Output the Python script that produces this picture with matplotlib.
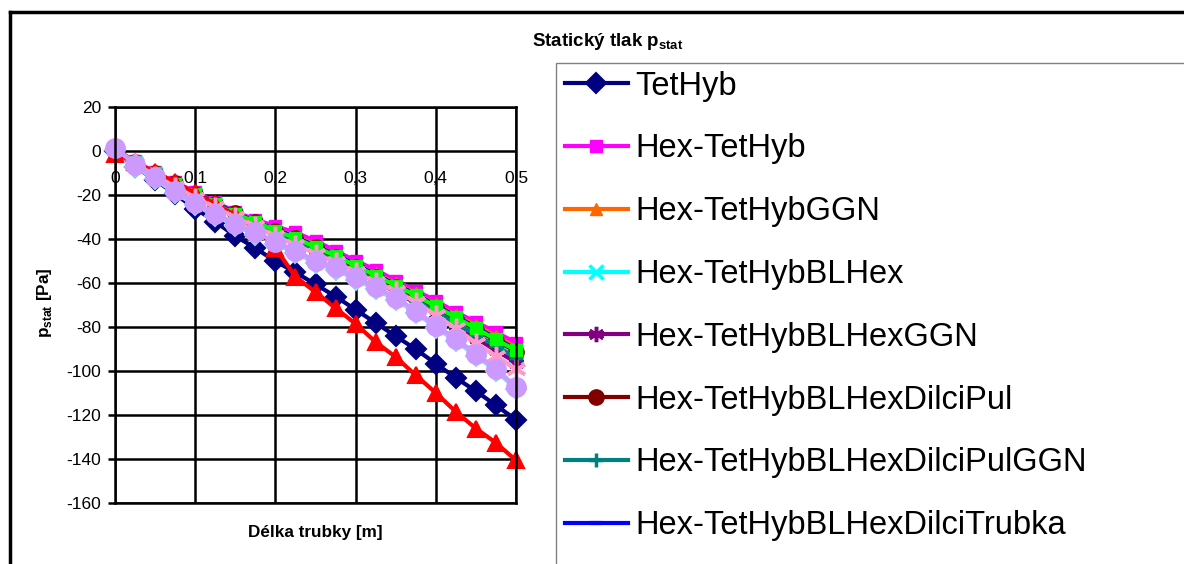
import matplotlib
matplotlib.use("Agg")
from matplotlib import pyplot as plt
from matplotlib.lines import Line2D
from matplotlib.patches import Rectangle

plt.rcParams['font.family'] = ['Liberation Sans', 'DejaVu Sans']
plt.rcParams['axes.unicode_minus'] = False
plt.rcParams['mathtext.fontset'] = 'custom'
plt.rcParams['mathtext.rm'] = 'Liberation Sans'
plt.rcParams['mathtext.bf'] = 'Liberation Sans:bold'

# delka trubky [m]
x = [0, 0.025, 0.05, 0.075, 0.1, 0.125, 0.15, 0.175, 0.2, 0.225, 0.25,
     0.275, 0.3, 0.325, 0.35, 0.375, 0.4, 0.425, 0.45, 0.475, 0.5]

# staticky tlak [Pa]
tethyb = [0, -7, -13, -19.5, -26, -32, -38.5, -44, -50, -55, -60.5,
          -66, -72, -78, -84, -90, -96.5, -103, -109, -115.5, -122]
hex_tethyb = [1, -4.5, -9.5, -14, -18.5, -23, -27.5, -31, -34, -36.9, -40.7,
              -45.2, -49.8, -53.8, -58.8, -63.3, -67.9, -73.1, -77.6, -82.2, -87]
hex_tethyb_ggn = [1, -5, -10, -14.5, -19, -23.5, -28, -32, -35.5, -38.5, -42.5,
                  -47, -51.5, -55.5, -60, -64.5, -69.5, -74.5, -79, -84, -89]
hex_blhex = [1, -5.5, -10.5, -15.5, -20, -24.5, -29, -33, -37, -41, -45,
             -49.5, -54, -58.5, -63, -67.5, -72.5, -77.5, -83, -88, -93.5]
hex_blhex_ggn = [1, -5.5, -10.5, -15.5, -20.5, -25, -29.5, -33.5, -37.5, -41.5, -45.5,
                 -50, -54.5, -59, -64, -69, -74, -79.5, -85, -90.5, -96]
hex_dilcipul = [1, -5, -10, -14.5, -19.5, -24, -28, -32, -36, -39.5, -43.5,
                -48, -52.5, -57, -61.5, -66, -71, -76, -81, -86, -91]
hex_dilcipul_ggn = [1, -5.5, -10.5, -15.5, -20.5, -25, -29.5, -33.5, -37.5, -41.5, -45.5,
                    -50, -54.5, -59, -63.5, -68, -73, -78, -83.5, -88.5, -94]
hex_dilcitrubka = [1, -5, -10, -14.5, -19, -23.5, -28, -32, -35.5, -39, -43,
                   -47, -51.5, -56, -60.5, -65, -70, -75, -80, -85, -90]
# dalsi rady (legenda je v obrazku oriznuta)
rada9 = [0.5, -7, -12.7, -19, -24.4, -29.3, -33.9, -37.9, -42, -46.2, -50.8,
         -53.8, -58.3, -62.8, -67.5, -73.4, -80.2, -86.2, -93, -99.8, -108]
rada10 = [1, -5, -10, -15, -19.5, -24, -28.5, -32, -36, -39.5, -43.5,
          -47.5, -52, -56.5, -61, -65.5, -70.5, -75.5, -80.5, -85.5, -90.5]
rada11 = [-1, -5, -9.5, -14, -19, -24, -29, -35, -44, -57, -64,
          -71.3, -78.4, -86.7, -93.5, -101.8, -109.8, -118.4, -126, -132.5, -140.5]
rada12 = [1.5, -5.5, -11, -16, -21, -25.5, -30, -34, -38.5, -42.5, -46.5,
          -50.5, -55, -59.5, -63.5, -68.5, -74.5, -80.5, -87, -93, -99]
rada13 = [1.5, -6, -11.7, -18, -23.4, -28.3, -32.9, -36.9, -41, -45.2, -49.8,
          -52.8, -57.3, -61.8, -66.5, -72.4, -79.2, -85.2, -92, -98.8, -107]

# nazev, data, barva, znacka, velikost znacky, tloustka okraje znacky
series = [
    ("TetHyb", tethyb, "#000080", "D", 10, 1.5),
    ("Hex-TetHyb", hex_tethyb, "#FF00FF", "s", 8, 1),
    ("Hex-TetHybGGN", hex_tethyb_ggn, "#FF6600", "^", 9, 1),
    ("Hex-TetHybBLHex", hex_blhex, "#00FFFF", "x", 10, 2.5),
    ("Hex-TetHybBLHexGGN", hex_blhex_ggn, "#800080", (6, 2, 0), 11, 2.5),
    ("Hex-TetHybBLHexDilciPul", hex_dilcipul, "#800000", "o", 11, 1),
    ("Hex-TetHybBLHexDilciPulGGN", hex_dilcipul_ggn, "#008080", "+", 10, 2.5),
    ("Hex-TetHybBLHexDilciTrubka", hex_dilcitrubka, "#0000FF", "_", 8, 3),
    ("rada9", rada9, "#99CCFF", "D", 10, 1.5),
    ("rada10", rada10, "#00FF00", "s", 8, 1),
    ("rada11", rada11, "#FF0000", "^", 12, 1.5),
    ("rada12", rada12, "#FF99CC", (6, 2, 0), 14, 2.5),
    ("rada13", rada13, "#CC99FF", "o", 14, 1),
]

fig = plt.figure(figsize=(11.84, 5.64), dpi=100)
ax = fig.add_axes([115 / 1184, 1 - 503.3 / 564, 401 / 1184, 396 / 564])

lines = []
for name, vals, col, mk, ms, mew in series:
    ln, = ax.plot(x, vals, color=col, lw=3, marker=mk, ms=ms,
                  mec=col, mfc=col, mew=mew, label=name, clip_on=False)
    lines.append(ln)

ax.set_xlim(0, 0.5)
ax.set_ylim(-160, 20)
ax.set_xticks([0, 0.1, 0.2, 0.3, 0.4, 0.5])
ax.set_yticks(range(-160, 21, 20))
ax.set_xticklabels([])
ax.tick_params(axis="x", length=0)
ax.tick_params(axis="y", length=5, width=1.8, pad=5, labelsize=12.5)
ax.grid(True, color="black", lw=1.8)
for sp in ax.spines.values():
    sp.set_linewidth(1.8)

# popisky osy x sedi na nule
for xv in [0, 0.1, 0.2, 0.3, 0.4, 0.5]:
    lab = "0" if xv == 0 else ("%.1f" % xv).replace(".", ",")
    ax.text(xv, -9, lab, ha="center", va="top", fontsize=12.5, zorder=1)

fig.text(608 / 1184, 1 - 42 / 564, r"Statický tlak $\mathbf{p}_{\mathbf{stat}}$",
         ha="center", va="center", fontsize=13.5, fontweight="bold")
fig.text(315 / 1184, 1 - 533 / 564, "Délka trubky [m]",
         ha="center", va="center", fontsize=12.3, fontweight="bold")
fig.text(45 / 1184, 1 - 303 / 564, r"$\mathbf{p}_{\mathbf{stat}}$ [Pa]",
         ha="center", va="center", fontsize=12.3, fontweight="bold", rotation=90)

# ramecek grafu a legendy (pokracuji mimo obrazek)
fig.add_artist(Line2D([10 / 1184, 1.01], [1 - 12 / 564, 1 - 12 / 564],
                      color="black", lw=2.5, transform=fig.transFigure))
fig.add_artist(Line2D([10 / 1184, 10 / 1184], [1 - 12 / 564, -0.01],
                      color="black", lw=2.5, transform=fig.transFigure))
fig.add_artist(Rectangle((556 / 1184, -0.1), 0.7, 1 - 63 / 564 + 0.1,
                         fill=False, ec="#808080", lw=1, transform=fig.transFigure))

fig.legend(handles=lines[:8], loc="upper left",
           bbox_to_anchor=(558 / 1184, 1 - 64 / 564), frameon=False,
           fontsize=23.5, handlelength=1.93, handletextpad=0.25,
           labelspacing=0.975, borderaxespad=0, borderpad=0.2, markerscale=1.0)

plt.savefig("out.png", dpi=100)
